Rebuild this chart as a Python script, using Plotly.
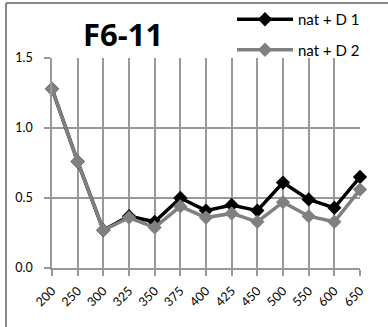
import plotly.graph_objects as go

categories = ["200", "250", "300", "325", "350", "375", "400", "425", "450", "500", "550", "600", "650"]
series1_name = "nat + D 1"
series1 = [1.28, 0.76, 0.27, 0.37, 0.33, 0.50, 0.41, 0.45, 0.41, 0.61, 0.49, 0.43, 0.65]
series2_name = "nat + D 2"
series2 = [1.28, 0.76, 0.27, 0.36, 0.29, 0.44, 0.36, 0.39, 0.33, 0.47, 0.37, 0.33, 0.56]
title_text = "F6-11"
y_ticks = [0.0, 0.5, 1.0, 1.5]

W, H = 388, 327
L, R, T, B = 52, 360, 58, 268

fig = go.Figure()
fig.add_trace(go.Scatter(
    x=categories, y=series1, name=series1_name, mode="lines+markers",
    line=dict(color="#000000", width=3.5),
    marker=dict(symbol="diamond", size=11, color="#000000"),
    legendgroup="a", cliponaxis=False,
))
fig.add_trace(go.Scatter(
    x=categories, y=series2, name=series2_name, mode="lines+markers",
    line=dict(color="#808080", width=3.5),
    marker=dict(symbol="diamond", size=11, color="#808080"),
    legendgroup="b", cliponaxis=False,
))

def fx(p):
    return p / W

def fy(p):
    return 1 - p / H

fig.update_layout(
    template="none",
    width=W, height=H, autosize=False,
    margin=dict(l=0, r=0, t=0, b=0, pad=0),
    paper_bgcolor="white", plot_bgcolor="white",
    font=dict(family="Lato, Open Sans, sans-serif", color="#000000", size=12),
    showlegend=True,
    legend=dict(
        x=fx(232), y=fy(3), xanchor="left", yanchor="top",
        bgcolor="rgba(0,0,0,0)", font=dict(size=15, color="#000000"),
        itemwidth=56, tracegroupgap=8,
    ),
    xaxis=dict(
        domain=[fx(L), fx(R)], automargin=False,
        type="category", range=[0, len(categories) - 1],
        showgrid=True, gridcolor="#999999", gridwidth=1.5,
        showline=True, linecolor="#999999", linewidth=1.5,
        ticks="outside", ticklen=6, tickcolor="#999999", tickwidth=1.5,
        tickangle=-45, tickfont=dict(size=12.5), zeroline=False,
        ticklabelstandoff=3,
    ),
    yaxis=dict(
        domain=[fy(B), fy(T)], automargin=False,
        range=[0, 1.5], tickvals=y_ticks, tickformat=".1f",
        showgrid=True, gridcolor="#999999", gridwidth=1.5,
        showline=True, linecolor="#999999", linewidth=1.5,
        ticks="outside", ticklen=6, tickcolor="#999999", tickwidth=1.5,
        tickfont=dict(size=12.5), zeroline=False, ticklabelstandoff=9,
    ),
    annotations=[dict(
        text="<b>" + title_text + "</b>", x=fx(123), y=fy(34),
        xref="paper", yref="paper", showarrow=False,
        font=dict(size=31, family="Open Sans, sans-serif", color="#000000"),
        xanchor="center", yanchor="middle",
    )],
    shapes=[
        dict(type="line", xref="paper", yref="paper", x0=fx(6), x1=1.05, y0=fy(3), y1=fy(3),
             line=dict(color="#888888", width=2)),
        dict(type="line", xref="paper", yref="paper", x0=fx(6), x1=fx(6), y0=fy(3), y1=-0.05,
             line=dict(color="#888888", width=2)),
    ],
)

fig.write_html("out.html", config={"displayModeBar": False},
               post_script="document.body.style.margin='0';")
